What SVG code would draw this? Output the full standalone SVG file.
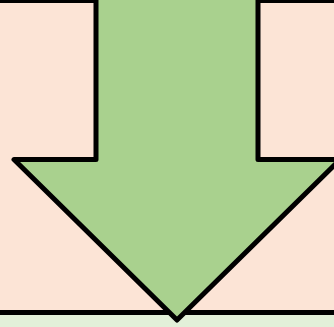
<svg xmlns="http://www.w3.org/2000/svg" width="334" height="327" viewBox="0 0 334 327">
  <style>
    .outline { stroke: #000000; stroke-width: 5; stroke-linejoin: round; }
  </style>
  <rect x="0" y="0" width="334" height="327" fill="#E2F0D9"/>
  <g id="background-panel">
    <rect class="outline" x="-10" y="0.5" width="360" height="312" fill="#FCE4D6"/>
  </g>
  <g id="down-arrow">
    <path class="outline" fill="#A9D18E" d="M96,-10 L258,-10 L258,159.5 L340,159.5 L177,320 L14,159.5 L96,159.5 Z"/>
  </g>
  <g id="connectors"></g>
</svg>
